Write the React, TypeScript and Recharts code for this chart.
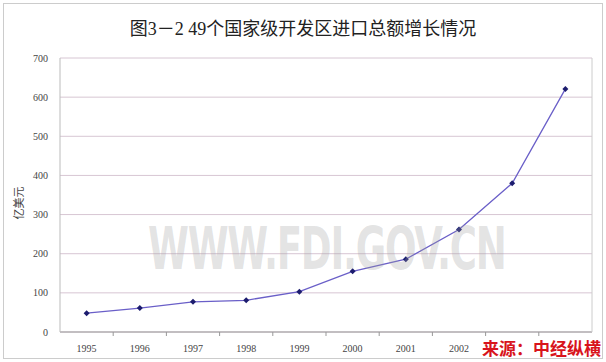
import React from "react";
import {
  LineChart,
  Line,
  XAxis,
  YAxis,
  CartesianGrid,
} from "recharts";

const years = ["1995", "1996", "1997", "1998", "1999", "2000", "2001", "2002", "2003", "2004"];
const importTotals = [48, 61, 77, 81, 103, 155, 186, 262, 380, 621];
const yTicks = [0, 100, 200, 300, 400, 500, 600, 700];
// the last two year labels sit under the source stamp in the original
const hiddenLabels = ["2003", "2004"];

const data = years.map((year, i) => ({ year, value: importTotals[i] }));

const W = 606;
const H = 362;
const margin = { top: 58, right: 13, bottom: 0, left: 0 };
const plotLeft = 60;
const halfBand = (W - plotLeft - 14) / years.length / 2;

const serif = "'Liberation Serif', 'DejaVu Serif', serif";
const cjk = "'Noto Sans CJK SC', sans-serif";

function XTick(props: any) {
  const { x, y, payload, index } = props;
  return (
    <g>
      {index > 0 && (
        <line x1={x - halfBand} x2={x - halfBand} y1={y - 8} y2={y - 4} stroke="#999" />
      )}
      {!hiddenLabels.includes(payload.value) && (
        <text x={x} y={y + 12} textAnchor="middle" fontSize={10} fill="#444" fontFamily={serif}>
          {payload.value}
        </text>
      )}
    </g>
  );
}

function UnitLabel(props: any) {
  const vb = props.viewBox || { x: 0, y: 0, width: 0, height: 0 };
  const lx = vb.x + 18;
  const ly = vb.y + vb.height / 2 + 8;
  return (
    <text
      x={lx}
      y={ly}
      transform={`rotate(-90, ${lx}, ${ly})`}
      textAnchor="middle"
      dominantBaseline="central"
      fontSize={11}
      fill="#444"
      fontFamily={cjk}
    >
      亿美元
    </text>
  );
}

function Diamond(props: any) {
  const { cx, cy } = props;
  const r = 3;
  return (
    <path
      d={`M${cx},${cy - r}L${cx + r},${cy}L${cx},${cy + r}L${cx - r},${cy}Z`}
      fill="#1c1c6e"
    />
  );
}

export default function App() {
  return (
    <div style={{ position: "fixed", left: 0, top: 0, width: W, height: H, background: "#fff" }}>
      <div
        style={{
          position: "absolute",
          left: 3,
          top: 3,
          width: W - 8,
          height: H - 8,
          border: "1px solid #ccc",
        }}
      />
      <div
        style={{
          position: "absolute",
          left: 0,
          width: W,
          top: 14,
          textAlign: "center",
          fontFamily: "'Liberation Serif', 'Noto Sans CJK SC', serif",
          fontSize: 18,
          color: "#222",
        }}
      >
        图3－2 49个国家级开发区进口总额增长情况
      </div>
      <LineChart width={W} height={H} data={data} margin={margin} style={{ position: "absolute", left: 0, top: 0 }}>
        <CartesianGrid horizontal vertical={false} stroke="#d7c6d3" />
        <XAxis
          dataKey="year"
          scale="band"
          height={30}
          tickLine={false}
          axisLine={{ stroke: "#999" }}
          tick={<XTick />}
          interval={0}
        />
        <YAxis
          domain={[0, 700]}
          ticks={yTicks}
          width={plotLeft}
          tickLine={false}
          axisLine={{ stroke: "#bbb" }}
          tick={{ fontSize: 10, fill: "#444", fontFamily: serif }}
          tickMargin={6}
          label={<UnitLabel />}
        />
        <YAxis
          yAxisId="right"
          orientation="right"
          domain={[0, 700]}
          tick={false}
          tickLine={false}
          width={1}
          axisLine={{ stroke: "#ccc" }}
        />
        <Line
          dataKey="value"
          type="linear"
          stroke="#6a5fc8"
          strokeWidth={1.3}
          dot={<Diamond />}
          activeDot={false}
          isAnimationActive={false}
        />
      </LineChart>
      <div
        style={{
          position: "absolute",
          left: 148,
          top: 214,
          fontFamily: "'DejaVu Sans', sans-serif",
          fontWeight: "bold",
          fontSize: 58,
          lineHeight: "70px",
          color: "rgba(160,160,160,0.3)",
          letterSpacing: -2,
          transform: "scaleX(0.64)",
          transformOrigin: "left top",
          pointerEvents: "none",
          whiteSpace: "nowrap",
        }}
      >
        WWW.FDI.GOV.CN
      </div>
      <div
        style={{
          position: "absolute",
          left: 482,
          top: 338,
          fontFamily: cjk,
          fontWeight: "bold",
          fontSize: 17,
          color: "#d8141c",
          lineHeight: "20px",
        }}
      >
        来源：中经纵横
      </div>
    </div>
  );
}
